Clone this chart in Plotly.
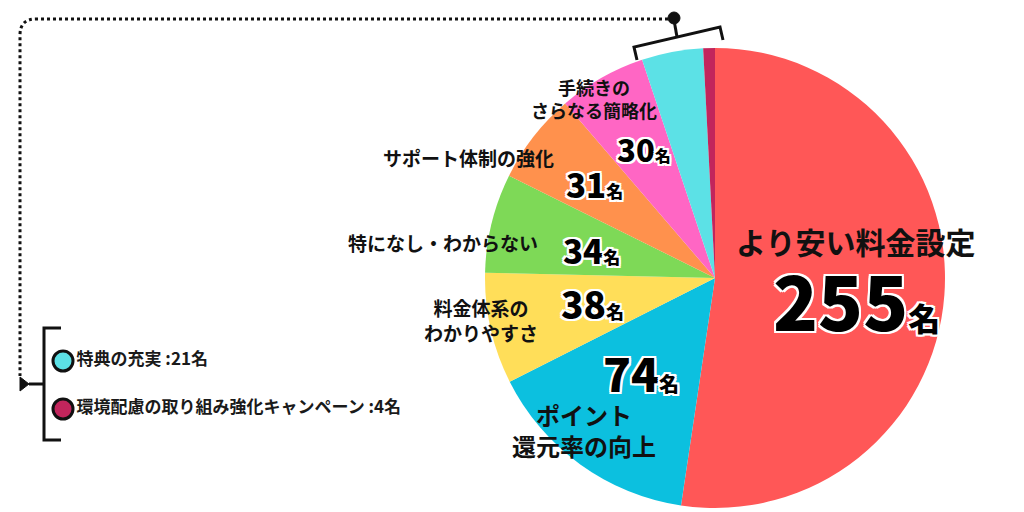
import plotly.graph_objects as go

# ---------------- data ----------------
categories = ["より安い料金設定", "ポイント還元率の向上", "料金体系のわかりやすさ",
              "特になし・わからない", "サポート体制の強化", "手続きのさらなる簡略化",
              "特典の充実", "環境配慮の取り組み強化キャンペーン"]
values = [255, 74, 38, 34, 31, 30, 21, 4]
display_labels = ["より安い料金設定", "ポイント<br>還元率の向上", "料金体系の<br>わかりやすさ",
                  "特になし・わからない", "サポート体制の強化", "手続きの<br>さらなる簡略化"]
unit = "名"

# ---------------- style ----------------
colors = ["#FF5757", "#0CC0DF", "#FFDE59", "#7ED957", "#FF914D", "#FF66C4", "#5CE1E6", "#C2255C"]
W, H = 1024, 512
pie_px = dict(x0=485, x1=945, y0=48, y1=508)

# label placement (pixels): (label x, label y, label size, num x, num y, num size, unit size)
label_style = [
    (855, 241, 30, 856, 298, 74, 32),
    (584, 430, 24, 641, 372, 46, 20),
    (481, 320, 19, 592, 303, 37, 18),
    (443, 242, 19, 591, 250, 33, 17),
    (468, 157, 19, 594, 184, 33, 17),
    (594, 98, 18, 644, 148, 31, 16),
]
JP = "Noto Sans CJK JP"
white_outline = ", ".join(f"{dx}px {dy}px 0 #fff" for dx, dy in
                          [(2, 0), (-2, 0), (0, 2), (0, -2), (2, 2), (-2, -2), (2, -2), (-2, 2)])

fig = go.Figure()

fig.add_trace(go.Pie(
    labels=categories, values=values, sort=False, direction="clockwise", rotation=0,
    marker=dict(colors=colors, line=dict(width=0)), textinfo="none", hoverinfo="label+value",
    domain=dict(x=[pie_px["x0"] / W, pie_px["x1"] / W],
                y=[1 - pie_px["y1"] / H, 1 - pie_px["y0"] / H]),
    showlegend=False,
))

# legend-like entries for the two small slices
small_idx = [6, 7]
fig.add_trace(go.Scatter(
    x=[63, 63], y=[361, 409], mode="markers+text",
    marker=dict(size=20, color=[colors[i] for i in small_idx], line=dict(width=3, color="#111")),
    text=[f"{categories[i]} :{values[i]}{unit}" for i in small_idx],
    textposition="middle right",
    textfont=dict(family=JP, size=17, color="#1a1a1a", weight="bold"),
    hoverinfo="skip", showlegend=False,
))

annotations = []
for i, (lx, ly, ls, nx, ny, ns, us) in enumerate(label_style):
    annotations.append(dict(
        x=lx, y=ly, xref="x", yref="y", text=display_labels[i], showarrow=False,
        xanchor="center", yanchor="middle",
        font=dict(family=JP, size=ls, color="#111", weight="bold"),
    ))
    annotations.append(dict(
        x=nx, y=ny, xref="x", yref="y",
        text=f"<span style='font-size:{ns}px'>{values[i]}</span><span style='font-size:{us}px'>{unit}</span>",
        showarrow=False, xanchor="center", yanchor="middle",
        font=dict(family=JP, size=ns, color="#000", weight=900, shadow=white_outline),
    ))

shapes = []
line_k = dict(color="#111", width=3)
# dotted connector from top bracket to legend
shapes.append(dict(type="path", xref="x", yref="y",
                   path="M 674 19 L 36 19 Q 20 19 20 35 L 20 376",
                   line=dict(color="#111", width=3, dash="dot")))
shapes.append(dict(type="path", xref="x", yref="y",
                   path="M 20 377 L 29 384 L 20 391 Z", fillcolor="#111", line=dict(color="#111", width=1)))
shapes.append(dict(type="circle", xref="x", yref="y", x0=668, x1=680, y0=12, y1=24,
                   fillcolor="#111", line=dict(color="#111", width=1)))
# tilted bracket over small slices
shapes.append(dict(type="path", xref="x", yref="y",
                   path="M 637 60 L 634 47 L 720 27 L 723 40", line=line_k))
shapes.append(dict(type="line", xref="x", yref="y", x0=677, y0=37, x1=674, y1=20, line=line_k))
# legend bracket
shapes.append(dict(type="path", xref="x", yref="y",
                   path="M 61 328 L 44 328 L 44 440 L 61 440", line=line_k))
shapes.append(dict(type="line", xref="x", yref="y", x0=29, y0=384, x1=44, y1=384, line=line_k))

fig.update_layout(
    width=W, height=H, margin=dict(l=0, r=0, t=0, b=0),
    paper_bgcolor="white", plot_bgcolor="rgba(0,0,0,0)",
    xaxis=dict(range=[0, W], visible=False, fixedrange=True, domain=[0, 1]),
    yaxis=dict(range=[H, 0], visible=False, fixedrange=True, domain=[0, 1]),
    annotations=annotations, shapes=shapes,
)

fig.write_html("out.html", config={"displayModeBar": False},
               post_script="document.body.style.margin='0';document.body.style.overflow='hidden';")
